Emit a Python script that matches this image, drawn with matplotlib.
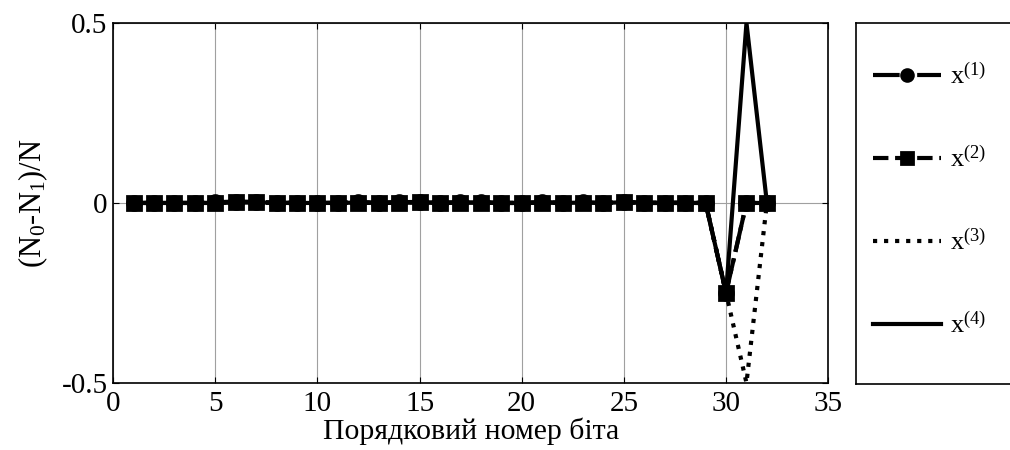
import matplotlib
matplotlib.use("Agg")
import matplotlib.pyplot as plt

plt.rcParams['font.family'] = ['Liberation Serif', 'DejaVu Serif']
plt.rcParams['mathtext.fontset'] = 'custom'
plt.rcParams['mathtext.rm'] = 'Liberation Serif'
plt.rcParams['mathtext.it'] = 'Liberation Serif'
plt.rcParams['axes.unicode_minus'] = False

# номер біта
bits = list(range(1, 33))

# (N0-N1)/N для кожної послідовності
x1 = [0.000, 0.000, 0.000, 0.000, 0.002, 0.004, 0.003, 0.000, 0.001, 0.000,
      0.001, 0.002, 0.001, 0.002, 0.003, 0.001, 0.002, 0.002, 0.000, 0.000,
      0.002, 0.001, 0.002, 0.000, 0.003, 0.001, 0.001, 0.001, 0.000, -0.25,
      0.000, 0.000]
x2 = [0.000, 0.000, 0.000, 0.000, 0.000, 0.002, 0.002, 0.000, 0.000, 0.000,
      0.000, 0.001, 0.000, 0.001, 0.002, 0.000, 0.001, 0.001, 0.000, 0.000,
      0.001, 0.000, 0.001, 0.000, 0.002, 0.000, 0.000, 0.000, 0.000, -0.25,
      0.000, 0.000]
x3 = [0.000, 0.000, 0.000, 0.000, 0.000, 0.002, 0.002, 0.000, 0.000, 0.000,
      0.000, 0.001, 0.000, 0.001, 0.002, 0.000, 0.001, 0.001, 0.000, 0.000,
      0.001, 0.000, 0.001, 0.000, 0.002, 0.000, 0.000, 0.000, 0.000, -0.25,
      -0.5, 0.000]
x4 = [0.000, 0.000, 0.000, 0.000, 0.000, 0.002, 0.002, 0.000, 0.000, 0.000,
      0.000, 0.001, 0.000, 0.001, 0.002, 0.000, 0.001, 0.001, 0.000, 0.000,
      0.001, 0.000, 0.001, 0.000, 0.002, 0.000, 0.000, 0.000, 0.000, -0.25,
      0.5, 0.000]

labels = [r'x$^{(1)}$', r'x$^{(2)}$', r'x$^{(3)}$', r'x$^{(4)}$']

fig = plt.figure(figsize=(10.1, 4.5), dpi=100)
ax = fig.add_axes([0.112, 0.149, 0.708, 0.800])

h4, = ax.plot(bits, x4, 'k-', lw=3)
h3, = ax.plot(bits, x3, 'k:', lw=3)
h2, = ax.plot(bits, x2, 'k--', lw=3, marker='s', ms=10, mfc='k', mew=2)
h1, = ax.plot(bits, x1, 'k-.', lw=3, marker='o', ms=10, mfc='k', mew=2)

ax.set_xlim(0, 35)
ax.set_ylim(-0.5, 0.5)
ax.set_xticks(range(0, 36, 5))
ax.set_yticks([-0.5, 0, 0.5])
ax.set_yticklabels(['-0.5', '0', '0.5'])
ax.grid(True, color='#a0a0a0', lw=0.8)
ax.tick_params(direction='in', top=True, right=True, length=4, labelsize=21)
ax.tick_params(axis='x', pad=6)
ax.tick_params(axis='y', pad=4)
for s in ax.spines.values():
    s.set_linewidth(1.2)
ax.set_xlabel('Порядковий номер біта', fontsize=21.5, labelpad=0)
ax.set_ylabel(r'(N$_0$-N$_1$)/N', fontsize=22, labelpad=8)

# рамка легенди
lax = fig.add_axes([0.848, 0.147, 0.2, 0.802])
lax.set_xticks([])
lax.set_yticks([])
for s in lax.spines.values():
    s.set_linewidth(1.2)
lax.legend([h1, h2, h3, h4], labels, loc='center left', bbox_to_anchor=(-0.012, 0.507),
           frameon=False, fontsize=19, handlelength=2.6, handletextpad=0.35,
           labelspacing=2.15, borderaxespad=0.3, markerscale=0.85)

fig.savefig('out.png', dpi=100)
